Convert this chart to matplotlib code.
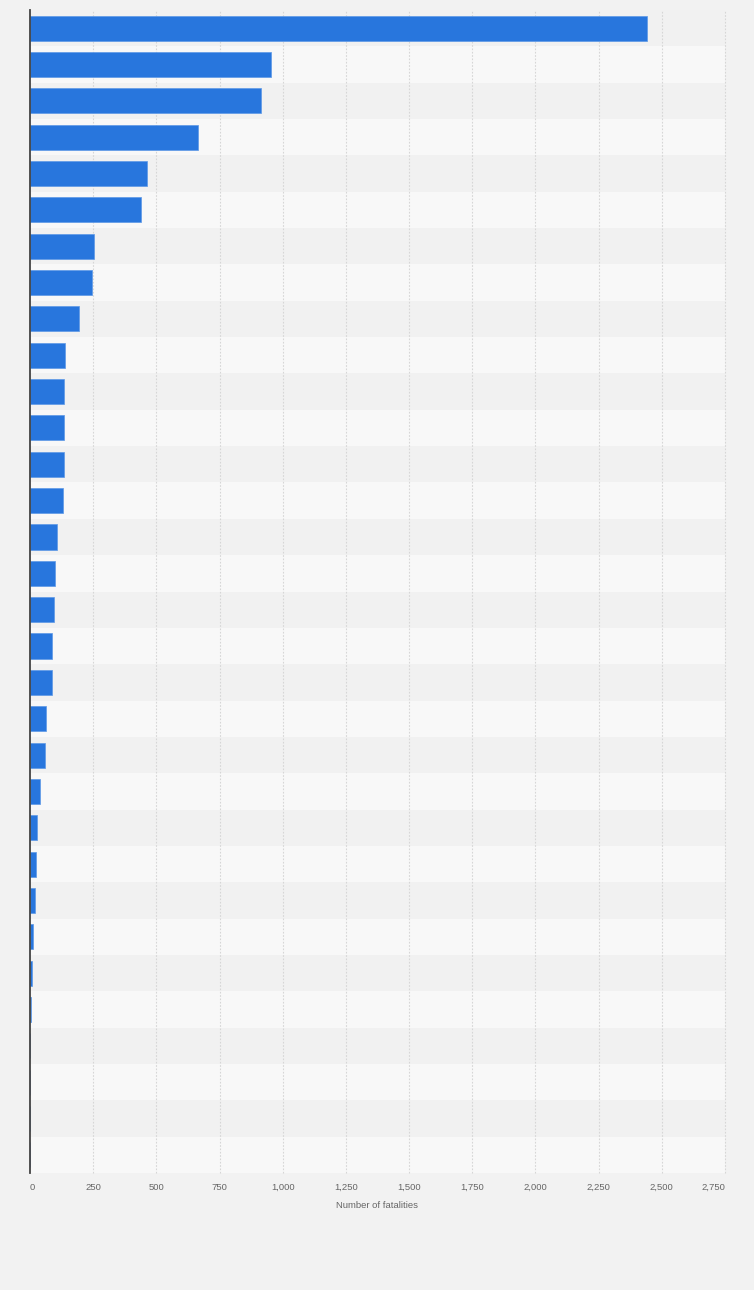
import matplotlib.pyplot as plt
import numpy as np

# fatalities per category (labels are not shown in the chart)
fatalities = [2440, 952, 913, 663, 461, 440, 254, 245, 192, 140,
              136, 136, 133, 132, 108, 97, 93, 88, 88, 62,
              58, 41, 28, 24, 20, 12, 9, 3, 0, 0, 0, 0]
x_ticks = [0, 250, 500, 750, 1000, 1250, 1500, 1750, 2000, 2250, 2500, 2750]

bar_color = '#2876dd'
bg = '#f2f2f2'

plt.rcParams['font.family'] = ['Liberation Sans', 'DejaVu Sans']

fig = plt.figure(figsize=(7.54, 12.9), dpi=100)
fig.patch.set_facecolor(bg)
ax = fig.add_axes([30 / 754, 117 / 1290, 695 / 754, 1163 / 1290])
ax.set_facecolor(bg)

n = len(fatalities)
y = np.arange(n)

# alternating row bands
for i in range(n):
    ax.axhspan(i - 0.5, i + 0.5, color='#f1f1f1' if i % 2 == 0 else '#f8f8f8', zorder=0, lw=0)

ax.barh(y, fatalities, height=0.69, color=bar_color, edgecolor='#5d98e6', linewidth=0.5, zorder=3)

ax.set_xlim(0, 2750)
ax.set_ylim(n - 0.5, -0.5)
ax.set_xticks(x_ticks)
ax.set_xticklabels([f'{t:,}' for t in x_ticks], fontsize=6.8, color='#666666')
ax.tick_params(axis='x', length=0, pad=7)
labels = ax.get_xticklabels()
labels[0].set_ha('left')
labels[-1].set_ha('right')
ax.set_yticks([])
for t in x_ticks[1:]:
    ax.axvline(t, color='#d6d6d6', linestyle=(0, (1.5, 1.5)), linewidth=0.8, zorder=1, clip_on=False)

for s in ['top', 'right', 'bottom']:
    ax.spines[s].set_visible(False)
ax.spines['left'].set_color('#444444')
ax.spines['left'].set_linewidth(1.3)
ax.spines['left'].set_zorder(4)

ax.set_xlabel('Number of fatalities', fontsize=6.8, color='#666666', labelpad=7)

fig.savefig('out.png', dpi=100, facecolor=bg)
